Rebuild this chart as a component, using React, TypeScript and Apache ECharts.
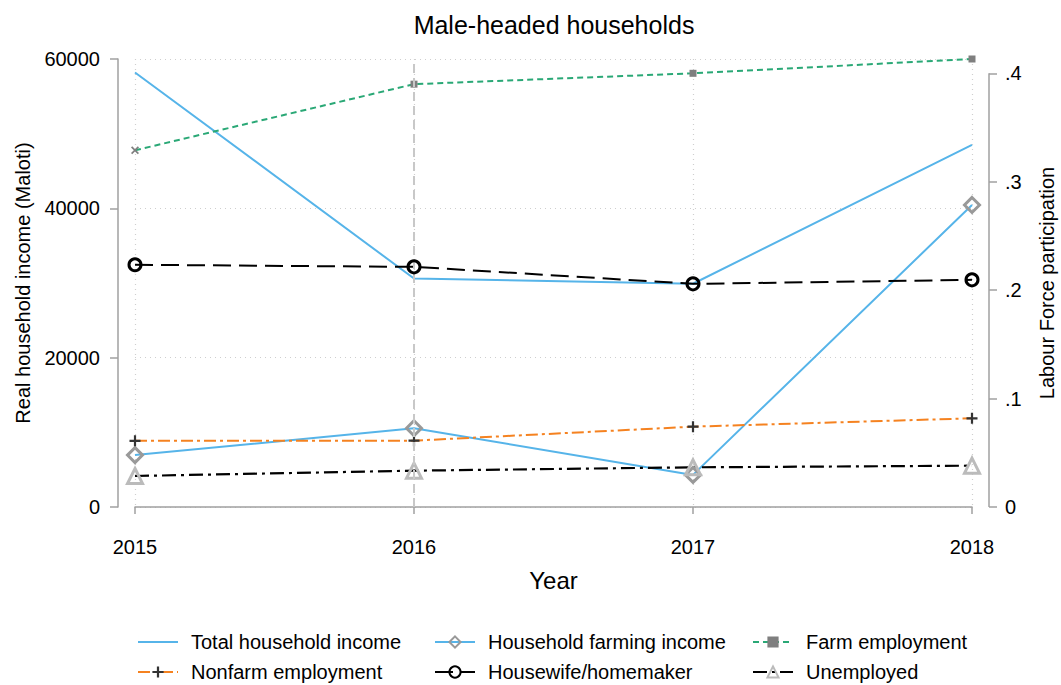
import React, { useEffect, useRef } from "react";
import * as echarts from "echarts";

const years = [2015, 2016, 2017, 2018];
const totalIncome = [58200, 30600, 29900, 48500];
const farmingIncome = [6950, 10550, 4300, 40450];
const farmEmp = [0.329, 0.39, 0.4, 0.4132];
const nonfarmEmp = [0.061, 0.0612, 0.0741, 0.0818];
const housewife = [0.2234, 0.2215, 0.2058, 0.2095];
const unemployed = [0.0286, 0.0335, 0.0366, 0.0381];

const leftTicks = [0, 20000, 40000, 60000];
const rightTicks = [0, 0.1, 0.2, 0.3, 0.4];
const markYear = 2016;

const FONT = "'Liberation Sans', Arial, Helvetica, sans-serif";
const AXIS_GRAY = "#a0a0a0";
const GRID_GRAY = "#cfcfcf";

const pairs = (vals: number[]) => years.map((y, i) => [y, vals[i]]);

const plusPath = "path://M4,0h2v4h4v2h-4v4h-2v-4h-4v-2h4z";
const xPath = "path://M0,1.5L1.5,0L5,3.5L8.5,0L10,1.5L6.5,5L10,8.5L8.5,10L5,6.5L1.5,10L0,8.5L3.5,5z";
const lineIcon = "path://M0,0H0.01V14H0Z M0,6H40V8H0Z";

export default function App() {
  const ref = useRef<HTMLDivElement>(null);
  useEffect(() => {
    if (!ref.current) return;
    const chart = echarts.init(ref.current, null, { renderer: "svg" });
    const legendText = { fontFamily: FONT, fontSize: 20, color: "#000", padding: [0, 0, 0, 8] };
    const legendBase = {
      orient: "vertical",
      top: 632,
      padding: 0,
      height: 80,
      itemWidth: 40,
      itemHeight: 14,
      itemGap: 10,
      textStyle: legendText,
    };
    const option: any = {
      animation: false,
      backgroundColor: "#fff",
      title: {
        text: "Male-headed households",
        left: 549,
        textAlign: "center",
        top: 7,
        textStyle: { fontFamily: FONT, fontSize: 25, fontWeight: "normal", color: "#000" },
      },
      grid: { left: 135, right: 89, top: 59, bottom: 178, outerBoundsMode: "none", containLabel: false },
      legend: [
        {
          ...legendBase,
          left: 137,
          data: [{ name: "Total household income", icon: lineIcon }, "Nonfarm employment"],
        },
        {
          ...legendBase,
          left: 434,
          data: ["Household farming income", "Housewife/homemaker"],
        },
        {
          ...legendBase,
          left: 752,
          data: ["Farm employment", "Unemployed"],
        },
      ],
      xAxis: {
        type: "value",
        min: 2015,
        max: 2018,
        interval: 1,
        offset: 16,
        name: "Year",
        nameLocation: "middle",
        nameGap: 45,
        nameTextStyle: { fontFamily: FONT, fontSize: 24, color: "#000" },
        axisLine: { show: true, lineStyle: { color: AXIS_GRAY, width: 1.5 } },
        axisTick: { show: true, length: 7, lineStyle: { color: AXIS_GRAY, width: 1.5 } },
        axisLabel: { fontFamily: FONT, fontSize: 20, color: "#000", margin: 14, formatter: (v: number) => String(v) },
        splitLine: { show: true, lineStyle: { color: GRID_GRAY, type: [1, 4], width: 1.2 } },
      },
      yAxis: [
        {
          type: "value",
          position: "left",
          min: leftTicks[0],
          max: leftTicks[leftTicks.length - 1],
          interval: leftTicks[1] - leftTicks[0],
          offset: 17,
          name: "Real household income (Maloti)",
          nameLocation: "middle",
          nameRotate: 90,
          nameGap: 84,
          nameTextStyle: { fontFamily: FONT, fontSize: 20, color: "#000" },
          axisLine: { show: true, lineStyle: { color: AXIS_GRAY, width: 1.5 } },
          axisTick: { show: true, length: 8, lineStyle: { color: AXIS_GRAY, width: 1.5 } },
          axisLabel: { fontFamily: FONT, fontSize: 20, color: "#000", margin: 18, formatter: (v: number) => String(v) },
          splitLine: { show: true, lineStyle: { color: GRID_GRAY, type: [1, 4], width: 1.2 } },
        },
        {
          type: "value",
          position: "right",
          min: 0,
          max: 0.4132,
          offset: 17,
          name: "Labour Force participation",
          nameLocation: "middle",
          nameRotate: 90,
          nameGap: 48,
          nameTextStyle: { fontFamily: FONT, fontSize: 20, color: "#000" },
          axisLine: { show: false },
          axisTick: { show: true, length: 8, customValues: rightTicks, lineStyle: { color: AXIS_GRAY, width: 1.5 } },
          axisLabel: {
            fontFamily: FONT,
            fontSize: 20,
            color: "#000",
            margin: 16,
            customValues: rightTicks,
            formatter: (v: number) => (v === 0 ? "0" : String(Math.round(v * 10) / 10).replace(/^0\./, ".")),
          },
          splitLine: { show: false },
        },
      ],
      series: [
        {
          name: "Total household income",
          type: "line",
          yAxisIndex: 0,
          data: pairs(totalIncome),
          symbol: "none",
          color: "#56b4e9",
          lineStyle: { color: "#56b4e9", width: 2 },
          markLine: {
            silent: true,
            symbol: "none",
            label: { show: false },
            lineStyle: { color: "#c8c8c8", type: [9, 5], width: 2 },
            data: [{ xAxis: markYear }],
          },
          z: 3,
        },
        {
          name: "Household farming income",
          type: "line",
          yAxisIndex: 0,
          data: pairs(farmingIncome),
          symbol: "diamond",
          symbolSize: 15,
          color: "#56b4e9",
          lineStyle: { color: "#56b4e9", width: 2 },
          itemStyle: { color: "rgba(255,255,255,0)", borderColor: "#999999", borderWidth: 3 },
          z: 4,
        },
        {
          name: "Farm employment",
          type: "line",
          yAxisIndex: 1,
          data: pairs(farmEmp).map((d, i) => (i === 0 ? { value: d, symbol: xPath, symbolSize: 8 } : d)),
          symbol: "rect",
          symbolSize: 7,
          color: "#2aa876",
          lineStyle: { color: "#2aa876", width: 2, type: [6, 4] },
          itemStyle: { color: "#7f7f7f" },
          z: 4,
        },
        {
          name: "Nonfarm employment",
          type: "line",
          yAxisIndex: 1,
          data: pairs(nonfarmEmp),
          symbol: plusPath,
          symbolSize: 11,
          color: "#f58220",
          lineStyle: { color: "#f58220", width: 2, type: [12, 4, 3, 4] },
          itemStyle: { color: "#333333" },
          z: 4,
        },
        {
          name: "Housewife/homemaker",
          type: "line",
          yAxisIndex: 1,
          data: pairs(housewife),
          symbol: "circle",
          symbolSize: 12,
          color: "#000",
          lineStyle: { color: "#000", width: 2, type: [18, 8] },
          itemStyle: { color: "rgba(255,255,255,0)", borderColor: "#000", borderWidth: 3 },
          z: 5,
        },
        {
          name: "Unemployed",
          type: "line",
          yAxisIndex: 1,
          data: pairs(unemployed),
          symbol: "triangle",
          symbolSize: 15,
          color: "#000",
          lineStyle: { color: "#000", width: 2.2, type: [14, 5, 3, 5] },
          itemStyle: { color: "rgba(255,255,255,0)", borderColor: "#bbbbbb", borderWidth: 3 },
          z: 4,
        },
      ],
    };
    chart.setOption(option);
    const xr = (chart.convertToPixel({ xAxisIndex: 0 }, 2018) as number) + 17;
    const y0 = chart.convertToPixel({ yAxisIndex: 1 }, rightTicks[0]) as number;
    const y1 = chart.convertToPixel({ yAxisIndex: 1 }, rightTicks[rightTicks.length - 1]) as number;
    chart.setOption({
      graphic: [
        {
          type: "line",
          shape: { x1: xr, y1: y0, x2: xr, y2: y1 },
          style: { stroke: AXIS_GRAY, lineWidth: 1.5 },
          silent: true,
        },
      ],
    });
    return () => chart.dispose();
  }, []);
  return (
    <div
      ref={ref}
      style={{ position: "fixed", left: 0, top: 0, width: 1061, height: 685, background: "#fff" }}
    />
  );
}
